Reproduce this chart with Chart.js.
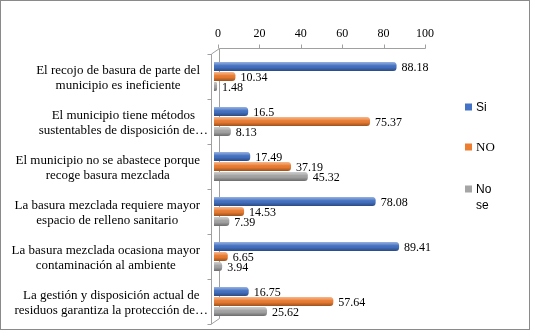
<!DOCTYPE html>
<html><head><meta charset="utf-8">
<script src="https://cdn.jsdelivr.net/npm/chart.js@4.4.1/dist/chart.umd.min.js"></script>
<style>html,body{margin:0;padding:0;background:#fff}#wrap{position:relative;width:534px;height:331px}</style>
</head><body><div id="wrap"><canvas id="c" width="534" height="331"></canvas></div>
<script>
const categories = [
  ["El recojo de basura de parte del", "municipio es ineficiente"],
  ["El municipio tiene métodos", "sustentables de disposición de…"],
  ["El municipio no se abastece porque", "recoge basura mezclada"],
  ["La basura mezclada requiere mayor", "espacio de relleno sanitario"],
  ["La basura mezclada ocasiona mayor", "contaminación al ambiente"],
  ["La gestión y disposición actual de", "residuos garantiza la protección de…"]
];
const seriesNames = ["Si", "NO", "No se"];
const siValues = [88.18, 16.5, 17.49, 78.08, 89.41, 16.75];
const noValues = [10.34, 75.37, 37.19, 14.53, 6.65, 57.64];
const noSeValues = [1.48, 8.13, 45.32, 7.39, 3.94, 25.62];
const xTickValues = [0, 20, 40, 60, 80, 100];
const seriesColors = ["#4472C4", "#ED7D31", "#A5A5A5"];

const SERIF = '"Liberation Serif", "Times New Roman", serif';
const SANS = '"Liberation Sans", Arial, sans-serif';

const decor = {
  id: 'decor',
  beforeDraw(chart) {
    const ctx = chart.ctx;
    ctx.save();
    ctx.fillStyle = '#fff';
    ctx.fillRect(0, 0, chart.width, chart.height);
    ctx.strokeStyle = '#8a8a8a';
    ctx.lineWidth = 1;
    ctx.strokeRect(0.5, 0.5, 529, 329);
    ctx.restore();
  },
  beforeDatasetsDraw(chart) {
    const ctx = chart.ctx, a = chart.chartArea, xs = chart.scales.x, ys = chart.scales.y;
    const front = Math.round(a.left - 3) + 0.5;
    const back = Math.round(a.left + 5) + 0.5;
    const topY = Math.round(a.top - 6) + 0.5;
    const botBack = Math.round(a.bottom - 6) + 0.5;
    ctx.save();
    ctx.strokeStyle = '#a0a0a0';
    ctx.lineWidth = 1;
    ctx.beginPath();
    ctx.moveTo(back, topY);
    ctx.lineTo(Math.round(xs.getPixelForValue(100) + 4) + 0.5, topY);
    xTickValues.forEach(v => {
      const x = Math.round(xs.getPixelForValue(v) + 4) + 0.5;
      ctx.moveTo(x, topY); ctx.lineTo(x, topY - 4);
    });
    ctx.moveTo(back, topY); ctx.lineTo(back, botBack);
    ctx.moveTo(front, a.top); ctx.lineTo(front, a.bottom);
    ctx.moveTo(back, topY); ctx.lineTo(front, a.top);
    ctx.moveTo(back, botBack); ctx.lineTo(front, a.bottom);
    for (let k = 0; k <= categories.length; k++) {
      const y = Math.round(ys.getPixelForValue(k - 0.5)) + 0.5;
      ctx.moveTo(front - 4, y); ctx.lineTo(front, y);
    }
    ctx.stroke();
    ctx.restore();
  },
  afterDatasetsDraw(chart) {
    const ctx = chart.ctx;
    ctx.save();
    chart.data.datasets.forEach((ds, di) => {
      const meta = chart.getDatasetMeta(di);
      meta.data.forEach((bar, i) => {
        const left = Math.min(bar.x, bar.base), right = Math.max(bar.x, bar.base);
        const h = bar.height, top = bar.y - h / 2;
        const w = right - left;
        if (w <= 0) return;
        const r = Math.min(h / 2, 3.5, w);
        const g = ctx.createLinearGradient(0, top, 0, top + h);
        g.addColorStop(0, 'rgba(255,255,255,0.45)');
        g.addColorStop(0.3, 'rgba(255,255,255,0.15)');
        g.addColorStop(0.55, 'rgba(0,0,0,0)');
        g.addColorStop(1, 'rgba(0,0,0,0.35)');
        ctx.fillStyle = g;
        ctx.beginPath();
        ctx.roundRect(left, top, w, h, [0, r, r, 0]);
        ctx.fill();
      });
    });
    ctx.fillStyle = '#000';
    ctx.font = '12px ' + SERIF;
    ctx.textBaseline = 'middle';
    ctx.textAlign = 'left';
    chart.data.datasets.forEach((ds, di) => {
      const meta = chart.getDatasetMeta(di);
      meta.data.forEach((bar, i) => {
        ctx.fillText(String(ds.data[i]), bar.x + 5, bar.y + 1);
      });
    });
    ctx.restore();
  },
  afterDraw(chart) {
    const ctx = chart.ctx, ys = chart.scales.y;
    ctx.save();
    ctx.fillStyle = '#000';
    ctx.font = '13px ' + SERIF;
    ctx.textBaseline = 'middle';
    ctx.textAlign = 'center';
    categories.forEach((lines, i) => {
      const yc = ys.getPixelForValue(i) + 2;
      const widths = lines.map(l => ctx.measureText(l).width);
      const bw = Math.max(...widths);
      const ell = lines.some(l => l.endsWith('…'));
      const R = ell ? 208 : 200;
      const cx = R - bw / 2;
      const lh = 15;
      lines.forEach((l, j) => {
        ctx.fillText(l, cx, yc + (j - (lines.length - 1) / 2) * lh);
      });
    });
    ctx.textAlign = 'left';
    const lx = 465, rows = [107, 147, 189];
    chart.data.datasets.forEach((ds, di) => {
      const y = rows[di];
      ctx.fillStyle = ds.backgroundColor;
      ctx.fillRect(lx, y - 3.5, 7, 7);
      ctx.fillStyle = '#000';
      ctx.font = (ds.label === ds.label.toUpperCase() ? '13px ' + SERIF : '12px ' + SANS);
      const words = ds.label.split(' ');
      const out = []; let cur = '';
      words.forEach(w => {
        const t = cur ? cur + ' ' + w : w;
        if (cur && ctx.measureText(t).width > 24) { out.push(cur); cur = w; } else cur = t;
      });
      if (cur) out.push(cur);
      out.forEach((t, j) => ctx.fillText(t, lx + 11, y + 1 + j * 16));
    });
    ctx.restore();
  }
};

new Chart(document.getElementById('c'), {
  type: 'bar',
  data: {
    labels: categories,
    datasets: [
      { label: seriesNames[0], data: siValues, backgroundColor: seriesColors[0] },
      { label: seriesNames[1], data: noValues, backgroundColor: seriesColors[1] },
      { label: seriesNames[2], data: noSeValues, backgroundColor: seriesColors[2] }
    ]
  },
  options: {
    indexAxis: 'y',
    responsive: false,
    animation: false,
    devicePixelRatio: 1,
    layout: { padding: { left: 214, right: 113, top: 26, bottom: 7 } },
    datasets: { bar: { categoryPercentage: 0.667, barPercentage: 0.9, borderRadius: 3.5, borderSkipped: 'start' } },
    plugins: { legend: { display: false }, tooltip: { enabled: false } },
    scales: {
      x: {
        type: 'linear', position: 'top', min: 0, max: 100,
        afterBuildTicks(scale) { scale.ticks = xTickValues.map(v => ({ value: v })); },
        afterFit(scale) { scale.height = 28; },
        ticks: { font: { family: SERIF, size: 12 }, color: '#000', padding: 13, labelOffset: 4, maxRotation: 0 },
        grid: { display: false, drawTicks: false },
        border: { display: false }
      },
      y: { display: false }
    }
  },
  plugins: [decor]
});
</script>
</body></html>
